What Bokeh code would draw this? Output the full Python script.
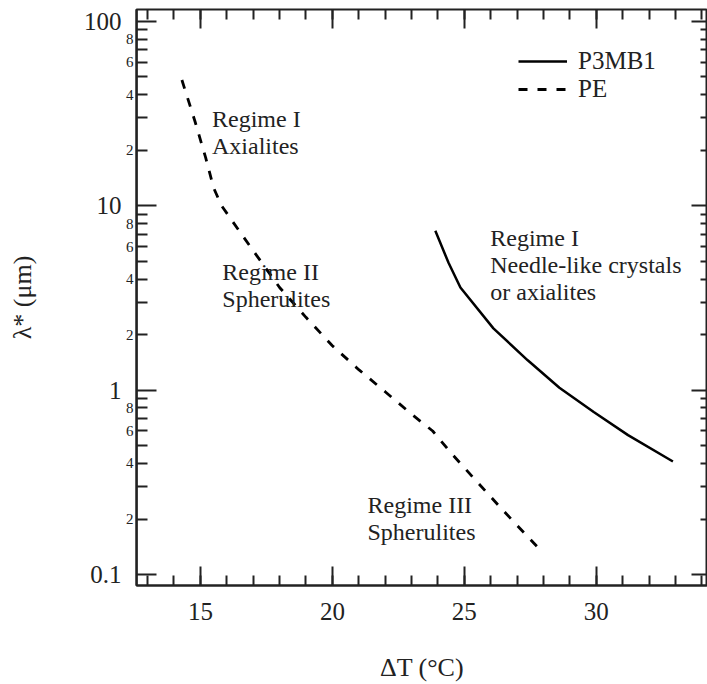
from bokeh.plotting import figure
from bokeh.models import (Range1d, LinearAxis, LogAxis, FixedTicker, SingleIntervalTicker,
                          CustomJSTickFormatter, Label, Legend)
from bokeh.embed import file_html
from bokeh.resources import INLINE

# Characteristic length lambda* (um) vs. supercooling dT (deg C)
pe_dT = [14.3, 14.8, 15.2, 15.5, 15.8, 16.5, 17.0, 18.0, 19.0, 20.0, 21.0, 22.0,
         23.0, 23.8, 24.5, 25.5, 26.5, 28.0]
pe_lam = [48.0, 28.5, 18.2, 12.5, 10.0, 7.2, 5.7, 3.6, 2.48, 1.74, 1.29, 0.98,
          0.74, 0.60, 0.455, 0.316, 0.22, 0.13]

p3_dT = [23.9, 24.4, 24.85, 26.1, 27.4, 28.6, 29.9, 31.2, 32.9]
p3_lam = [7.3, 4.9, 3.6, 2.16, 1.45, 1.03, 0.76, 0.57, 0.41]

# log axis ticks
decade_ticks = [0.1, 1, 10, 100]
minor_label_vals = [0.2, 0.4, 0.6, 0.8, 2, 4, 6, 8, 20, 40, 60, 80]
minor_label_text = ["2", "4", "6", "8"] * 3
odd_minor_ticks = [m * d for d in (0.1, 1, 10) for m in (3, 5, 7, 9)]
all_minor_ticks = [m * d for d in (0.1, 1, 10) for m in range(2, 10)]

# region annotations
regime_lines = [["Regime I", "Axialites"],
                ["Regime II", "Spherulites"],
                ["Regime III", "Spherulites"],
                ["Regime I", "Needle-like crystals", "or axialites"]]
regime_x = [15.44, 15.83, 21.33, 25.98]
regime_y = [28.9, 4.27, 0.233, 6.53]

FONT = "Liberation Serif"
INK = "#222222"

X0, X1 = 12.58, 34.21
Y0, Y1 = 0.0872, 115.7

# the frame outline gives the four spines
p = figure(width=707, height=684,
           x_range=Range1d(X0, X1), y_range=Range1d(Y0, Y1),
           y_axis_type="log", y_axis_location=None, title_location=None,
           output_backend="svg", toolbar_location=None,
           min_border_left=136, min_border_right=0, min_border_top=9,
           min_border_bottom=99, background_fill_color="white",
           border_fill_color="white", outline_line_color=INK, outline_line_width=2,
           outline_line_alpha=1.0)
p.xgrid.grid_line_color = None
p.ygrid.grid_line_color = None


def style_axis(ax, major_len, minor_len):
    ax.axis_line_color = INK
    ax.axis_line_width = 2
    ax.major_tick_line_color = INK
    ax.minor_tick_line_color = INK
    ax.major_tick_line_width = 2
    ax.minor_tick_line_width = 2
    ax.major_tick_in = major_len
    ax.major_tick_out = 0
    ax.minor_tick_in = minor_len
    ax.minor_tick_out = 0


x_ticker = SingleIntervalTicker(interval=5, num_minor_ticks=5)

xa = p.xaxis[0]
xa.ticker = x_ticker
style_axis(xa, 19, 10)
xa.major_label_text_font = FONT
xa.major_label_text_font_size = "25px"
xa.major_label_text_color = INK
xa.major_label_standoff = 17
xa.axis_label = "ΔT (°C)"
xa.axis_label_text_font = FONT
xa.axis_label_text_font_size = "26px"
xa.axis_label_text_font_style = "normal"
xa.axis_label_text_color = INK
xa.axis_label_standoff = 30

# inner left axis: spine, 2..9 ticks, small 2/4/6/8 labels
minor_fmt = CustomJSTickFormatter(
    args=dict(vals=minor_label_vals, texts=minor_label_text),
    code="""
for (let i = 0; i < vals.length; i++) {
  if (Math.abs(vals[i] - tick) < 1e-6 * vals[i]) { return texts[i]; }
}
return "";
""")
inner = LogAxis(ticker=FixedTicker(ticks=minor_label_vals, minor_ticks=odd_minor_ticks),
                formatter=minor_fmt, major_label_standoff=3,
                major_label_text_font=FONT, major_label_text_font_size="15px",
                major_label_text_color=INK)
style_axis(inner, 11, 11)
p.add_layout(inner, "left")

# outer left axis: decade labels and the axis title
outer = LogAxis(ticker=FixedTicker(ticks=decade_ticks),
                formatter=CustomJSTickFormatter(
                    code="return tick < 1 ? tick.toFixed(1) : tick.toFixed(0);"),
                axis_line_color=None, major_tick_in=0, major_tick_out=0,
                minor_tick_in=0, minor_tick_out=0, major_label_standoff=1,
                major_label_text_font=FONT, major_label_text_font_size="25px",
                major_label_text_color=INK,
                axis_label="λ* (μm)", axis_label_text_font=FONT,
                axis_label_text_font_size="26px", axis_label_text_font_style="normal",
                axis_label_text_color=INK, axis_label_standoff=44)
p.add_layout(outer, "left")

# long decade ticks on the left spine
blank = CustomJSTickFormatter(code="return '';")
decade_axis = LogAxis(ticker=FixedTicker(ticks=decade_ticks), formatter=blank,
                      fixed_location=X0, major_label_standoff=0,
                      major_label_text_font_size="1px")
style_axis(decade_axis, 20, 0)
p.add_layout(decade_axis, "left")

# inward ticks along the top edge
top = LinearAxis(ticker=x_ticker, formatter=blank, axis_line_color=None,
                 major_label_standoff=0, major_label_text_font_size="1px")
style_axis(top, 19, 10)
top.axis_line_color = None
p.add_layout(top, "above")

# inward ticks along the right edge
right = LogAxis(ticker=FixedTicker(ticks=decade_ticks, minor_ticks=all_minor_ticks),
                formatter=blank, fixed_location=34.37,
                major_label_standoff=0, major_label_text_font_size="1px")
style_axis(right, 20, 11)
p.add_layout(right, "right")

r_p3 = p.line(p3_dT, p3_lam, line_color="black", line_width=2.5)
r_pe = p.line(pe_dT, pe_lam, line_color="black", line_width=2.8, line_dash="9 10")

for lines, lx, ly in zip(regime_lines, regime_x, regime_y):
    for i, t in enumerate(lines):
        p.add_layout(Label(x=lx, y=ly, text=t, y_offset=2 - 27 * i, text_align="left",
                           text_baseline="middle", text_font=FONT,
                           text_font_size="24px", text_color=INK))

legend = Legend(items=[("P3MB1", [r_p3]), ("PE", [r_pe])], location=(382, 482),
                border_line_color=None, background_fill_alpha=0, padding=0, margin=0,
                spacing=0, glyph_width=49, glyph_height=28, label_height=28,
                label_standoff=11, label_text_font=FONT, label_text_font_size="25px",
                label_text_color=INK, label_text_baseline="middle")
p.add_layout(legend)

open("out.html", "w").write(file_html(p, INLINE))
